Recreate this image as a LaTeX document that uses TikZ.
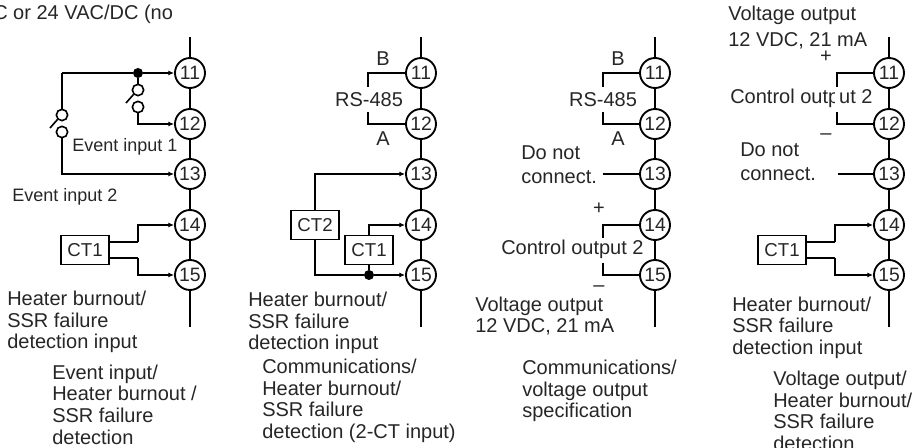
\documentclass[tikz,border=0pt]{standalone}
\usepackage{fontspec}
\setmainfont{Liberation Sans}
\usepackage{tikz}
\usetikzlibrary{arrows}
\usetikzlibrary{arrows.meta}
\begin{document}
\begin{tikzpicture}[x=0.75pt,y=-0.75pt]
\tikzset{>={Latex[width=1.3mm,length=1.5mm]}}
\tikzstyle{terminal} =[circle,draw,fill=white,line width=1.4pt,inner sep=0pt,minimum size=22.5pt,text=black!85,font=\fontsize{14.5}{15}\selectfont]
\tikzstyle{wire} =[line width=1.2pt]
\tikzstyle{rail} =[line width=1.5pt]
\tikzstyle{contact} =[circle,draw,fill=white,line width=1.2pt,inner sep=0pt,minimum size=8.5pt]
\tikzstyle{junction} =[circle,fill=black,inner sep=0pt,minimum size=7.5pt]
\tikzstyle{ctbox} =[rectangle,draw,fill=white,line width=1.2pt,inner sep=0pt,minimum width=36pt,minimum height=22pt,text=black!85,font=\fontsize{14}{15}\selectfont]
\tikzstyle{txt} =[anchor=west,inner sep=0pt,align=left,text=black!85,font=\fontsize{15}{16.2}\selectfont]
\tikzstyle{smalltxt} =[anchor=west,inner sep=0pt,text=black!85,font=\fontsize{13.5}{15}\selectfont]
\tikzstyle{mid} =[inner sep=0pt,text=black!85,font=\fontsize{15}{16}\selectfont]
\useasboundingbox (0,0) rectangle (914,448);

% event input column
\node[terminal](a11) at (190,73){11};
\node[terminal](a12) at (190,124){12};
\node[terminal](a13) at (190,174){13};
\node[terminal](a14) at (190,225){14};
\node[terminal](a15) at (190,275){15};
\coordinate (atop) at (190,37);
\coordinate (aend) at (190,327);
\draw [rail] (atop) to (a11);
\draw [rail] (a11) to (a12);
\draw [rail] (a12) to (a13);
\draw [rail] (a13) to (a14);
\draw [rail] (a14) to (a15);
\draw [rail] (a15) to (aend);
\coordinate (acorner) at (62,73);
\node[junction](adot) at (138,73){};
\node[contact](asw1) at (138,90){};
\node[contact](asw2) at (138,107){};
\node[contact](asw3) at (62,115){};
\node[contact](asw4) at (62,132){};
\coordinate (aslash1) at (126,103);
\coordinate (aslash2) at (50,128);
\draw [wire,->] (adot) to (a11);
\draw [wire] (acorner) to (adot);
\draw [wire] (acorner) to (asw3);
\draw [wire] (adot) to (asw1);
\draw [wire,->] (asw2) |- (a12);
\draw [wire,->] (asw4) |- (a13);
\draw [wire] (aslash1) to (asw1.south west);
\draw [wire] (aslash2) to (asw3.south west);
\node[ctbox](act1) at (85,250){CT1};
\coordinate (aup) at (138,242);
\coordinate (adown) at (138,258);
\draw [wire] (act1.east |- aup) to (aup);
\draw [wire] (act1.east |- adown) to (adown);
\draw [wire,->] (aup) |- (a14);
\draw [wire,->] (adown) |- (a15);
\node[smalltxt](atxt1) at (72,147){Event input 1};
\node[smalltxt](atxt2) at (12,197){Event input 2};
\node[txt](atxt3) at (-7,14){C or 24 VAC/DC (no};
\node[txt](atxt4) at (7,322){Heater burnout/\\SSR failure\\detection input};
\node[txt](atxt5) at (52,404.5){Event input/\\Heater burnout /\\SSR failure\\detection};

% communications column
\node[terminal](b11) at (421,73){11};
\node[terminal](b12) at (421,124){12};
\node[terminal](b13) at (421,174){13};
\node[terminal](b14) at (421,225){14};
\node[terminal](b15) at (421,275){15};
\coordinate (btop) at (421,37);
\coordinate (bend) at (421,327);
\draw [rail] (btop) to (b11);
\draw [rail] (b11) to (b12);
\draw [rail] (b12) to (b13);
\draw [rail] (b13) to (b14);
\draw [rail] (b14) to (b15);
\draw [rail] (b15) to (bend);
\coordinate (bstub1) at (368,87);
\coordinate (bstub2) at (368,112);
\draw [wire] (bstub1) |- (b11);
\draw [wire] (bstub2) |- (b12);
\node[ctbox](bct2) at (315,225){CT2};
\node[ctbox](bct1) at (369,250){CT1};
\node[junction](bdot) at (369,275){};
\draw [wire,->] (bct2) |- (b13);
\draw [wire,->] (bct1) |- (b14);
\draw [wire] (bct2) |- (bdot);
\draw [wire] (bct1) to (bdot);
\draw [wire,->] (bdot) to (b15);
\node[mid](btxt1) at (383,59){B};
\node[mid](btxt2) at (369,100){RS-485};
\node[mid](btxt3) at (383,139){A};
\node[txt](btxt4) at (248,323){Heater burnout/\\SSR failure\\detection input};
\node[txt](btxt5) at (262,401){Communications/\\Heater burnout/\\SSR failure\\detection (2-CT input)};

% voltage output column
\node[terminal](c11) at (655,73){11};
\node[terminal](c12) at (655,124){12};
\node[terminal](c13) at (655,174){13};
\node[terminal](c14) at (655,225){14};
\node[terminal](c15) at (655,275){15};
\coordinate (ctop) at (655,37);
\coordinate (cend) at (655,327);
\draw [rail] (ctop) to (c11);
\draw [rail] (c11) to (c12);
\draw [rail] (c12) to (c13);
\draw [rail] (c13) to (c14);
\draw [rail] (c14) to (c15);
\draw [rail] (c15) to (cend);
\coordinate (cstub1) at (603,87);
\coordinate (cstub2) at (603,112);
\coordinate (cstub3) at (603,174);
\coordinate (cstub4) at (603,238);
\coordinate (cstub5) at (603,263);
\draw [wire] (cstub1) |- (c11);
\draw [wire] (cstub2) |- (c12);
\draw [wire] (cstub3) to (c13);
\draw [wire] (cstub4) |- (c14);
\draw [wire] (cstub5) |- (c15);
\node[mid](ctxt1) at (618,59){B};
\node[mid](ctxt2) at (603,100){RS-485};
\node[mid](ctxt3) at (618,139){A};
\node[txt](ctxt4) at (521,165){Do not\\[2pt]connect.};
\node[mid](ctxt5) at (599,209){+};
\node[txt](ctxt6) at (501,249){Control output 2};
\node[mid](ctxt7) at (599,289){--};
\node[txt](ctxt8) at (475,316){Voltage output\\12 VDC, 21 mA};
\node[txt](ctxt9) at (522,391){Communications/\\voltage output\\specification};

% voltage output and CT column
\node[terminal](d11) at (889,73){11};
\node[terminal](d12) at (889,124){12};
\node[terminal](d13) at (889,174){13};
\node[terminal](d14) at (889,225){14};
\node[terminal](d15) at (889,275){15};
\coordinate (dtop) at (889,37);
\coordinate (dend) at (889,327);
\draw [rail] (dtop) to (d11);
\draw [rail] (d11) to (d12);
\draw [rail] (d12) to (d13);
\draw [rail] (d13) to (d14);
\draw [rail] (d14) to (d15);
\draw [rail] (d15) to (dend);
\node[txt](dtxt1) at (730,98){Control output 2};
\fill[white] (834.5,87) rectangle (840,111);
\coordinate (dstub1) at (837,87);
\coordinate (dstub2) at (837,112);
\coordinate (dstub3) at (838,174);
\draw [wire] (dstub1) |- (d11);
\draw [wire] (dstub2) |- (d12);
\draw [wire] (dstub3) to (d13);
\node[ctbox](dct1) at (782,250){CT1};
\coordinate (dup) at (835,242);
\coordinate (ddown) at (835,258);
\draw [wire] (dct1.east |- dup) to (dup);
\draw [wire] (dct1.east |- ddown) to (ddown);
\draw [wire,->] (dup) |- (d14);
\draw [wire,->] (ddown) |- (d15);
\node[txt](dtxt2) at (728,27.5){Voltage output\\[3pt]12 VDC, 21 mA};
\node[mid](dtxt3) at (826,57){+};
\node[mid](dtxt4) at (826,137){--};
\node[txt](dtxt5) at (740,162){Do not\\[2pt]connect.};
\node[txt](dtxt6) at (732,327.5){Heater burnout/\\SSR failure\\detection input};
\node[txt](dtxt7) at (773,411){Voltage output/\\Heater burnout/\\SSR failure\\detection};
\end{tikzpicture}
\end{document}
